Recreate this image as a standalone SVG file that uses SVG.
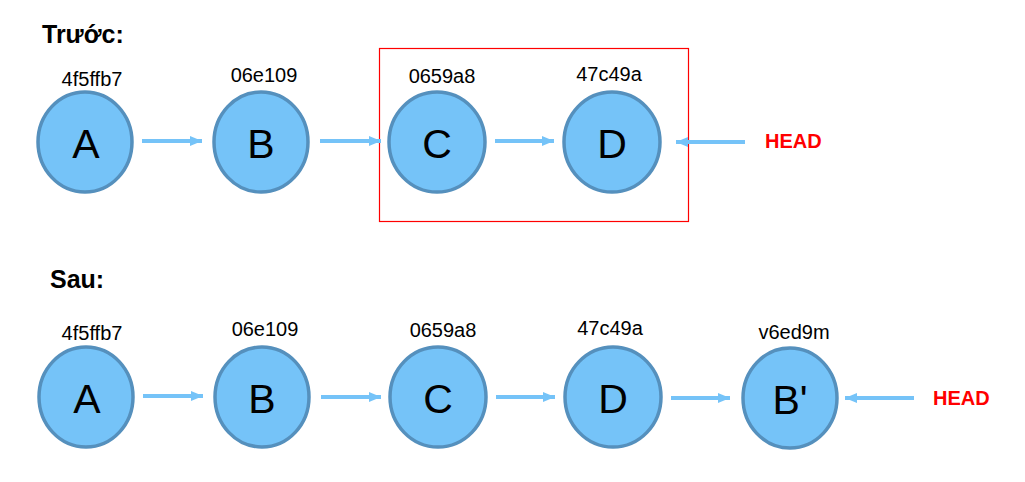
<svg xmlns="http://www.w3.org/2000/svg" width="1025" height="482" viewBox="0 0 1025 482">
<defs>
<style>
.n{fill:#75C3F8;stroke:#5590BD;stroke-width:3.5}
.l{font-family:"Liberation Sans",Arial,sans-serif;font-size:41px;fill:#000;text-anchor:middle}
.h{font-family:"Liberation Sans",Arial,sans-serif;font-size:20px;fill:#000;text-anchor:middle}
.t{font-family:"Liberation Sans",Arial,sans-serif;font-size:25px;font-weight:bold;fill:#000}
.hd{font-family:"Liberation Sans",Arial,sans-serif;font-size:20px;font-weight:bold;fill:#FF0000}
.c{stroke:#75C3F8;stroke-width:4;fill:none;marker-end:url(#ah)}
</style>
<marker id="ah" viewBox="0 0 12 10" refX="12" refY="5" markerWidth="12" markerHeight="10" markerUnits="userSpaceOnUse" orient="auto">
<path d="M0,0 L12,5 L0,10 Z" fill="#75C3F8"/>
</marker>
</defs>
<rect width="1025" height="482" fill="#fff"/>
<text class="t" x="42" y="43">Trước:</text>
<text class="t" x="50" y="288">Sau:</text>
<rect id="box" x="379.5" y="48.5" width="309" height="173" fill="none" stroke="#FF0000" stroke-width="1.2"/>
<g id="connectors">
<line class="c" x1="142" y1="141" x2="202" y2="141"/>
<line class="c" x1="320" y1="141" x2="381" y2="141"/>
<line class="c" x1="495" y1="141" x2="554" y2="141"/>
<line class="c" x1="745" y1="142" x2="676" y2="142"/>
<line class="c" x1="143" y1="396" x2="203" y2="396"/>
<line class="c" x1="321" y1="397" x2="381" y2="397"/>
<line class="c" x1="496" y1="397" x2="555" y2="397"/>
<line class="c" x1="671" y1="398" x2="730" y2="398"/>
<line class="c" x1="914" y1="398" x2="845" y2="398"/>
</g>
<g id="top-A"><ellipse class="n" cx="85" cy="142" rx="47" ry="50"/><text class="l" x="86" y="158">A</text><text class="h" x="92" y="86">4f5ffb7</text></g>
<g id="top-B"><ellipse class="n" cx="261" cy="142" rx="47" ry="50"/><text class="l" x="261" y="158">B</text><text class="h" x="264" y="82">06e109</text></g>
<g id="top-C"><ellipse class="n" cx="437" cy="142" rx="48" ry="50"/><text class="l" x="437" y="158">C</text><text class="h" x="442" y="83">0659a8</text></g>
<g id="top-D"><ellipse class="n" cx="612" cy="142" rx="48" ry="50"/><text class="l" x="612" y="158">D</text><text class="h" x="609" y="81">47c49a</text></g>
<g id="top-HEAD"><text class="hd" x="765" y="148">HEAD</text></g>
<g id="bot-A"><ellipse class="n" cx="86" cy="397" rx="47" ry="50"/><text class="l" x="87" y="413">A</text><text class="h" x="92" y="340">4f5ffb7</text></g>
<g id="bot-B"><ellipse class="n" cx="262" cy="397" rx="47" ry="50"/><text class="l" x="262" y="413">B</text><text class="h" x="265" y="336">06e109</text></g>
<g id="bot-C"><ellipse class="n" cx="438" cy="397" rx="48" ry="50"/><text class="l" x="438" y="413">C</text><text class="h" x="443" y="337">0659a8</text></g>
<g id="bot-D"><ellipse class="n" cx="613" cy="397" rx="48" ry="50"/><text class="l" x="613" y="413">D</text><text class="h" x="610" y="335">47c49a</text></g>
<g id="bot-Bp"><ellipse class="n" cx="790" cy="398" rx="47" ry="50"/><text class="l" x="790" y="414">B'</text><text class="h" x="794" y="339">v6ed9m</text></g>
<g id="bot-HEAD"><text class="hd" x="933" y="405">HEAD</text></g>
</svg>
